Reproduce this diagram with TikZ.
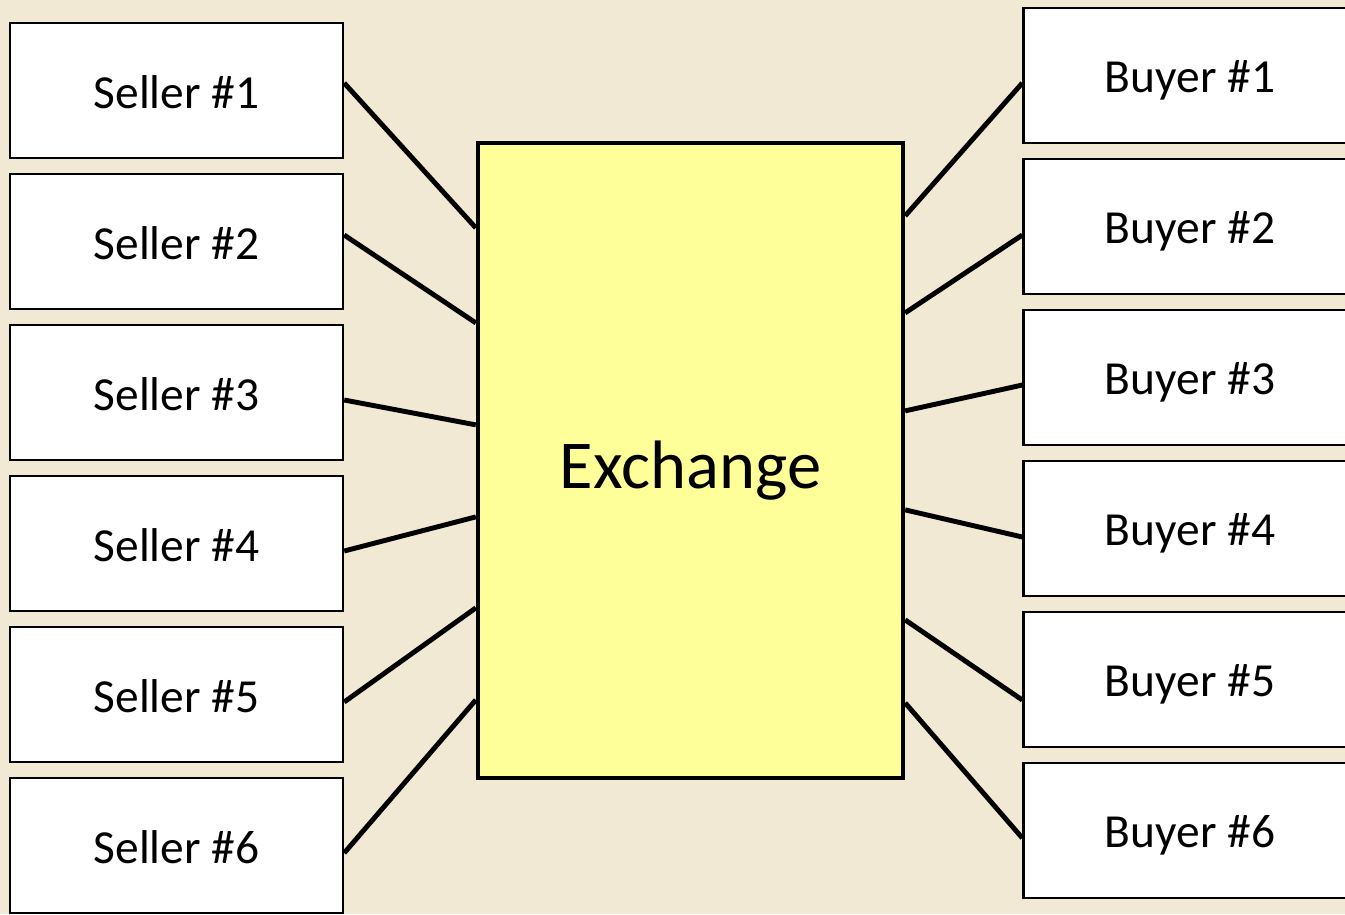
\documentclass[tikz,border=0pt]{standalone}
\usepackage{fontspec}
\setmainfont{Carlito}
\usetikzlibrary{calc}

\definecolor{paper}{RGB}{242,233,212}
\definecolor{exfill}{RGB}{255,255,153}

% lower the ink of a label while keeping the box size it reports
\newcommand{\lowered}[2]{\raisebox{#1}[\height][\depth]{#2}}

\tikzset{
  party/.style={draw=black, line width=1.4pt, fill=white,
    minimum width=6.66cm, minimum height=2.7cm, inner sep=0pt,
    font=\fontsize{27}{32}\selectfont},
  hub/.style={draw=black, line width=2.5pt, fill=exfill,
    minimum width=8.5cm, minimum height=12.7cm, inner sep=0pt,
    font=\fontsize{39}{46}\selectfont},
  link/.style={draw=black, line width=2.8pt}
}

\begin{document}
\begin{tikzpicture}[x=0.02cm, y=-0.02cm]
  \useasboundingbox (0,0) rectangle (1345,914);
  \clip (0,0) rectangle (1345,914);
  \fill[paper] (0,0) rectangle (1345,914);

  % central exchange
  \node[hub] (ex) at (690.5,460.5) {\lowered{-0.15em}{Exchange}};

  % sellers on the left
  \foreach \i in {1,...,6} {
    \node[party] (s\i) at (176.5, {90.5+151*(\i-1)}) {\lowered{-0.04em}{Seller \#\i}};
  }
  % buyers on the right
  \foreach \i in {1,...,6} {
    \node[party] (b\i) at (1190, {75.5+151*(\i-1)}) {\lowered{-0.1em}{Buyer \#\i}};
  }

  % seller links
  \draw[link] ($(s1.east)+(0,-7.5)$) -- ($(ex.north west)+(0,87)$);
  \draw[link] ($(s2.east)+(0,-6.5)$) -- ($(ex.north west)+(0,182)$);
  \draw[link] ($(s3.east)+(0,7.5)$)  -- ($(ex.north west)+(0,284)$);
  \draw[link] ($(s4.east)+(0,7.5)$)  -- ($(ex.north west)+(0,376)$);
  \draw[link] ($(s5.east)+(0,7.5)$)  -- ($(ex.north west)+(0,467)$);
  \draw[link] ($(s6.east)+(0,7.5)$)  -- ($(ex.north west)+(0,559)$);

  % buyer links
  \draw[link] ($(ex.north east)+(0,75)$)  -- ($(b1.west)+(0,7.5)$);
  \draw[link] ($(ex.north east)+(0,172)$) -- ($(b2.west)+(0,8.5)$);
  \draw[link] ($(ex.north east)+(0,270)$) -- ($(b3.west)+(0,7.5)$);
  \draw[link] ($(ex.north east)+(0,369)$) -- ($(b4.west)+(0,8.5)$);
  \draw[link] ($(ex.north east)+(0,479)$) -- ($(b5.west)+(0,20.5)$);
  \draw[link] ($(ex.north east)+(0,562)$) -- ($(b6.west)+(0,7.5)$);
\end{tikzpicture}
\end{document}
